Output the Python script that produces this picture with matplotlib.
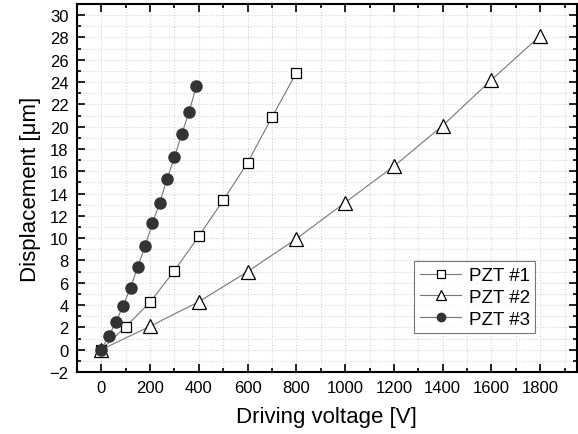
import numpy as np
import matplotlib.pyplot as plt
from matplotlib.ticker import MultipleLocator

plt.rcParams['font.family'] = ['Liberation Sans', 'DejaVu Sans']

# PZT #1 (open squares)
v1 = [0, 100, 200, 300, 400, 500, 600, 700, 800]
d1 = [0, 2.06, 4.26, 7.09, 10.19, 13.4, 16.77, 20.85, 24.84]

# PZT #2 (open triangles)
v2 = [0, 200, 400, 600, 800, 1000, 1200, 1400, 1600, 1800]
d2 = [0, 2.1, 4.3, 7.0, 9.95, 13.2, 16.45, 20.1, 24.2, 28.15]

# PZT #3 (filled circles)
v3 = [0, 30, 60, 90, 120, 150, 180, 210, 240, 270, 300, 330, 360, 390]
d3 = [0, 1.19, 2.48, 3.96, 5.57, 7.44, 9.32, 11.35, 13.2, 15.34, 17.25, 19.33, 21.33, 23.62]

fig = plt.figure(figsize=(5.78, 4.35), dpi=100)
ax = fig.add_axes([0.133, 0.1425, 0.865, 0.846])

lc = '#777777'
ax.plot(v1, d1, '-', color=lc, lw=0.8, marker='s', ms=7.5, mfc='white', mec='black', mew=0.9, label='PZT #1', zorder=3)
ax.plot(v2, d2, '-', color=lc, lw=0.8, marker='^', ms=9.5, mfc='white', mec='black', mew=0.9, label='PZT #2', zorder=3)
ax.plot(v3, d3, '-', color=lc, lw=0.8, marker='o', ms=8, mfc='#333333', mec='#333333', label='PZT #3', zorder=4)

ax.set_xlim(-100, 1950)
ax.set_ylim(-2, 31)
ax.xaxis.set_major_locator(MultipleLocator(200))
ax.xaxis.set_minor_locator(MultipleLocator(100))
ax.yaxis.set_major_locator(MultipleLocator(2))
ax.yaxis.set_minor_locator(MultipleLocator(1))

ax.grid(which='both', color='#d4d4d4', ls=':', lw=0.8, zorder=0)
ax.set_axisbelow(True)
ax.tick_params(which='both', direction='in', top=True, right=True, labelsize=12, width=1.2)
ax.tick_params(which='major', length=6, pad=6)
ax.tick_params(which='minor', length=3)
for s in ax.spines.values():
    s.set_linewidth(1.5)

ax.set_xlabel('Driving voltage [V]', fontsize=16, labelpad=8)
ax.set_ylabel('Displacement [μm]', fontsize=16, labelpad=6)

leg = ax.legend(loc='lower left', bbox_to_anchor=(0.675, 0.105), fontsize=13.5, frameon=True,
                fancybox=False, edgecolor='#555555', handlelength=2.2, handletextpad=0.4,
                borderpad=0.3, labelspacing=0.25, borderaxespad=0, markerscale=0.75)
leg.get_frame().set_linewidth(0.8)

fig.savefig('out.png', dpi=100)
